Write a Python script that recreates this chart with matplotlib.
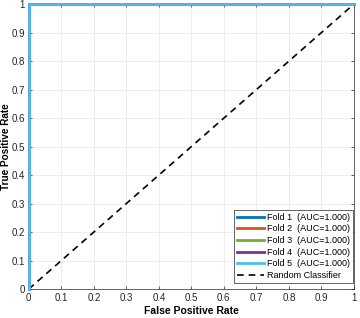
import matplotlib.pyplot as plt

plt.rcParams['font.family'] = ['Liberation Sans', 'DejaVu Sans']

# ROC data for each fold (perfect classifiers)
folds = ['Fold 1', 'Fold 2', 'Fold 3', 'Fold 4', 'Fold 5']
aucs = [1.000, 1.000, 1.000, 1.000, 1.000]
fpr = [0, 0, 1]
tpr = [0, 1, 1]
colors = ['#0072BD', '#D95319', '#77AC30', '#7E2F8E', '#4DBEEE']

fig = plt.figure(figsize=(3.6, 3.18), dpi=100)
ax = fig.add_axes([0.08, 0.091, 0.903, 0.896])

for name, auc, c in zip(folds, aucs, colors):
    ax.plot(fpr, tpr, color=c, linewidth=2, clip_on=False, zorder=3,
            label=f'{name}  (AUC={auc:.3f})')
ax.plot([0, 1], [0, 1], color='k', linestyle=(0, (4, 3)), linewidth=1.2,
        label='Random Classifier')

ticks = [i / 10 for i in range(11)]
ticklabels = ['0', '0.1', '0.2', '0.3', '0.4', '0.5', '0.6', '0.7', '0.8', '0.9', '1']
ax.set_xlim(0, 1)
ax.set_ylim(0, 1)
ax.set_xticks(ticks)
ax.set_yticks(ticks)
ax.set_xticklabels(ticklabels)
ax.set_yticklabels(ticklabels)
ax.tick_params(direction='in', labelsize=7, colors='#262626', length=2, width=0.5,
               top=True, right=True, pad=3)
ax.grid(True, color='#e6e6e6', linewidth=0.5)
for s in ax.spines.values():
    s.set_linewidth(0.5)
    s.set_color('#262626')

ax.set_xlabel('False Positive Rate', fontweight='bold', fontsize=7.5, labelpad=2)
ax.set_ylabel('True Positive Rate', fontweight='bold', fontsize=7.2)
ax.yaxis.set_label_coords(-0.056, 0.5)

leg = ax.legend(loc='lower right', bbox_to_anchor=(0.997, 0.02), borderaxespad=0,
                fontsize=6.5, fancybox=False, framealpha=1,
                edgecolor='#262626', handlelength=3.0,
                labelspacing=0.3, borderpad=0.35, handletextpad=0.3)
leg.get_frame().set_linewidth(0.5)

fig.savefig('out.png', dpi=100)
